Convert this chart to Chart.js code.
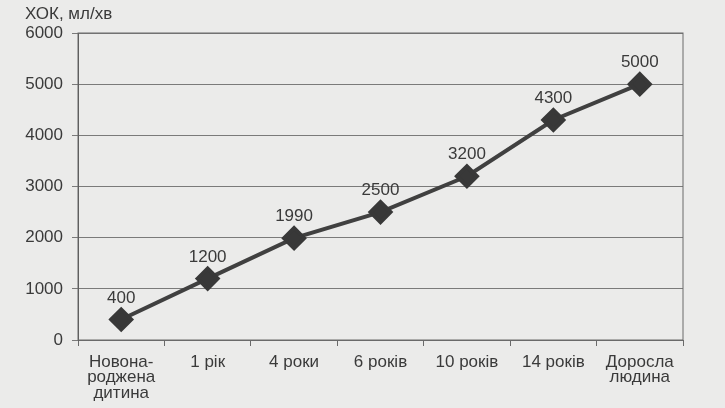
<!DOCTYPE html>
<html>
<head>
<meta charset="utf-8">
<script src="https://cdn.jsdelivr.net/npm/chart.js@4"></script>
<style>
  html, body { margin: 0; padding: 0; background: #ebebea; }
  #wrap { width: 725px; height: 408px; }
</style>
</head>
<body>
<div id="wrap"><canvas id="myChart" width="725" height="408"></canvas></div>
<script>
// Data
const ages = [['Новона-', 'роджена', 'дитина'], '1 рік', '4 роки', '6 років', '10 років', '14 років', ['Доросла', 'людина']];
const flowValues = [400, 1200, 1990, 2500, 3200, 4300, 5000];
const yTicks = [0, 1000, 2000, 3000, 4000, 5000, 6000];
const yTitle = 'ХОК, мл/хв';

const textColor = '#3a3a3a';
const fontFamily = '"Liberation Sans", Arial, sans-serif';

// value labels above the points, axis title, frame around plot area
const extras = {
    id: 'extras',
    beforeDatasetsDraw(chart) {
        const { ctx, chartArea } = chart;
        ctx.save();
        ctx.strokeStyle = '#6a6a6a';
        ctx.lineWidth = 1;
        ctx.strokeRect(chartArea.left, chartArea.top, chartArea.right - chartArea.left, chartArea.bottom - chartArea.top);
        ctx.fillStyle = textColor;
        ctx.font = '17px ' + fontFamily;
        ctx.textAlign = 'left';
        ctx.textBaseline = 'alphabetic';
        ctx.fillText(yTitle, 25, 19);
        ctx.restore();
    },
    afterDatasetsDraw(chart) {
        const { ctx } = chart;
        const meta = chart.getDatasetMeta(0);
        ctx.save();
        ctx.fillStyle = textColor;
        ctx.font = '17px ' + fontFamily;
        ctx.textAlign = 'center';
        ctx.textBaseline = 'alphabetic';
        meta.data.forEach((pt, i) => {
            ctx.fillText(String(flowValues[i]), pt.x, pt.y - 17);
        });
        ctx.restore();
    }
};

const ctx = document.getElementById('myChart').getContext('2d');

const myChart = new Chart(ctx, {
    type: 'line',
    data: {
        labels: ages,
        datasets: [{
            data: flowValues,
            borderColor: '#404040',
            borderWidth: 4,
            pointStyle: 'rectRot',
            pointRadius: 10,
            pointBackgroundColor: '#383838',
            pointBorderColor: '#383838',
            fill: false,
            tension: 0,
        }],
    },
    options: {
        responsive: false,
        animation: false,
        layout: { padding: { left: 0, right: 42, top: 33, bottom: 0 } },
        plugins: {
            legend: { display: false },
            tooltip: { enabled: false },
        },
        scales: {
            x: {
                offset: true,
                afterFit(scale) { scale.height = 68; },
                grid: { display: true, offset: true, drawOnChartArea: false, tickLength: 6, color: '#6a6a6a' },
                border: { color: '#6a6a6a' },
                ticks: {
                    color: textColor,
                    font: { family: fontFamily, size: 17, lineHeight: 0.92 },
                    maxRotation: 0,
                    autoSkip: false,
                    padding: 8,
                },
            },
            y: {
                min: 0,
                max: 6000,
                afterFit(scale) { scale.width = 78; },
                afterBuildTicks(scale) { scale.ticks = yTicks.map(v => ({ value: v })); },
                grid: { color: '#7a7a7a', tickLength: 6 },
                border: { color: '#555' },
                ticks: {
                    color: textColor,
                    font: { family: fontFamily, size: 17 },
                    padding: 9,
                    callback: v => String(v),
                },
            },
        },
    },
    plugins: [extras],
});
</script>
</body>
</html>
